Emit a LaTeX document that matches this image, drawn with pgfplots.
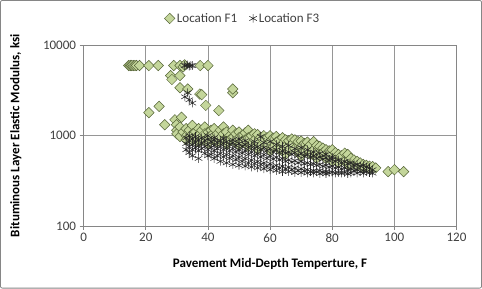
\documentclass[border=0pt]{standalone}
\usepackage{pgfplots}
\pgfplotsset{compat=1.18}
\usepackage{fontspec}
\setmainfont{Carlito}
\definecolor{gridc}{RGB}{150,150,150}
\definecolor{mgridc}{RGB}{200,200,200}
\definecolor{axc}{RGB}{134,134,134}
\definecolor{fone}{RGB}{196,214,155}
\definecolor{fonee}{RGB}{85,100,55}
\definecolor{txt}{RGB}{64,64,64}
\begin{document}
\begin{tikzpicture}
\begin{axis}[
  scale only axis, width=372pt, height=180pt,
  xmin=0, xmax=120, ymode=log, ymin=100, ymax=10000,
  xtick={0,20,40,60,80,100,120},
  ytick={100,1000,10000}, yticklabels={100,1000,10000},
  log basis y=10,
  grid=both, major grid style={gridc, line width=0.6pt},
  minor grid style={mgridc, line width=0.6pt},
  minor x tick num=0,
  yminorgrids=true, xminorgrids=false,
  axis line style={axc, line width=0.6pt},
  tick style={axc, line width=0.6pt},
  major tick length=4pt, minor tick length=0pt,
  tick align=outside, xtick pos=bottom, ytick pos=left,
  every tick label/.append style={font=\fontsize{13}{15}\selectfont, text=txt},
  /pgf/number format/assume math mode=true,
  xlabel={Pavement Mid-Depth Temperture, F},
  ylabel={Bituminous Layer Elastic Modulus, ksi},
  xlabel style={font=\fontsize{13}{15}\selectfont\bfseries, at={(axis description cs:0.5,-0.211)}, anchor=center},
  ylabel style={font=\fontsize{13}{15}\selectfont\bfseries, at={(axis description cs:-0.182,0.5)}, anchor=center, rotate=0},
  legend style={draw=none, fill=none, font=\fontsize{13}{15}\selectfont, text=txt,
     at={(axis description cs:0.427,1.15)}, anchor=center, legend columns=2,
     /tikz/every even column/.append style={column sep=10pt}},
  legend cell align=left,
  clip=false,
]
\addplot[only marks, mark=square*, mark size=3.7pt, mark options={rotate=45, fill=fone, draw=fonee, line width=0.5pt}] coordinates {
(14.5,6000)(15,6000)(15.5,6000)(16,6000)(16.5,6000)(17,6000)(18,6000)(21,6000)(24,6000)(29,6000)(31,6000)(32,5800)(32.5,6100)(37.5,6000)(40,6000)
(28,4640)(28.4,4200)(31,4640)(31,3400)(33.5,3300)(37.4,2900)(48,3000)(48,3300)(38,2850)(39.3,2170)(43.5,1900)
(21,1800)(24.3,2120)(26.1,1325)(29.4,1500)(29.9,1325)(31.5,1600)
(30,1150)(30,1050)(31,1250)(31,980)(32,1100)(33,1200)(33,1000)(33,900)(34,1150)(34,950)
(35,1300)(35,1050)(35,880)(36,1100)(36,950)(37,1200)(37,1000)(37,850)(38,1150)(38,900)
(39,1250)(39,1050)(40,1100)(40,950)(40,820)(41,1150)(41,1000)(42,1200)(42,900)(43,1050)(43,850)
(44,1150)(44,950)(45,1250)(45,1050)(45,880)(46,1100)(46,800)(47,1000)(47,900)(48,1150)(48,950)
(49,1050)(49,850)(50,1100)(50,950)(50,780)(51,1000)(51,870)(52,1080)(52,900)(53,1150)(53,950)(53,760)
(54,1000)(54,820)(55,1050)(55,900)(56,1030)(56,850)(56,700)(57,960)(57,780)(58,1000)(58,880)
(59,950)(59,800)(60,1000)(60,870)(60,680)(61,940)(61,760)(62,980)(62,850)(63,900)(63,700)
(64,950)(64,820)(65,900)(65,760)(65,620)(66,880)(66,700)(67,920)(67,800)(68,900)(68,720)
(69,860)(69,650)(70,870)(70,760)(70,600)(71,820)(71,680)(72,850)(72,720)(73,800)(73,620)
(74,860)(74,700)(75,780)(75,640)(75,560)(76,760)(76,600)(77,730)(77,650)(78,700)(78,560)
(79,680)(79,600)(80,700)(80,520)(81,650)(81,560)(82,620)(82,500)(83,600)(84,640)(84,520)
(85,620)(85,480)(86,560)(86,470)(87,540)(88,520)(88,460)(89,500)(90,480)(90,440)(91,470)
(92,460)(92,430)(93,455)(94,440)(98,400)(100,420)(103,400)
};
\addlegendentry{Location F1}
\addplot[only marks, mark=asterisk, mark size=4.3pt, mark options={draw=black!85, line width=0.55pt}] coordinates {
(32.5,6000)(33,6000)(33.5,6100)(34,5900)(34.5,6000)(35,6000)
(32.6,2700)(35,2300)(33.5,3000)(34,2500)
(33,950)(33,820)(33,700)(34,1000)(34,880)(34,760)(34,650)(35,920)(35,800)(35,700)(35,600)
(36,980)(36,850)(36,740)(37,900)(37,780)(37,680)(37,560)(38,950)(38,830)(38,720)
(39,880)(39,760)(39,640)(40,1000)(40,920)(40,800)(40,700)(40,600)(41,860)(41,740)(41,620)
(42,950)(42,900)(42,780)(42,680)(42,560)(43,840)(43,720)(43,600)(44,880)(44,760)(44,640)(44,520)
(45,940)(45,820)(45,700)(45,580)(46,860)(46,740)(46,620)(46,500)(47,800)(47,680)(47,560)
(48,900)(48,840)(48,720)(48,600)(48,480)(49,780)(49,660)(49,540)(50,920)(50,820)(50,700)(50,580)(50,470)
(51,760)(51,640)(51,520)(52,880)(52,800)(52,680)(52,560)(52,460)(53,740)(53,620)(53,500)
(54,780)(54,660)(54,540)(54,450)(55,860)(55,720)(55,600)(55,490)(56,760)(56,640)(56,520)(56,440)
(57,980)(57,700)(57,580)(57,480)(58,840)(58,740)(58,620)(58,500)(58,430)(59,680)(59,560)(59,460)
(60,860)(60,720)(60,600)(60,490)(60,420)(61,660)(61,550)(61,450)(62,800)(62,700)(62,580)(62,470)(62,410)
(63,650)(63,540)(63,440)(64,760)(64,680)(64,560)(64,460)(64,400)(65,640)(65,520)(65,430)
(66,780)(66,660)(66,540)(66,450)(66,400)(67,620)(67,510)(67,420)(68,720)(68,650)(68,530)(68,440)(68,390)
(69,600)(69,500)(69,410)(70,740)(70,640)(70,520)(70,430)(70,390)(71,590)(71,490)(71,410)
(72,700)(72,620)(72,500)(72,420)(72,385)(73,580)(73,480)(73,400)(74,660)(74,600)(74,490)(74,410)(74,385)
(75,560)(75,470)(75,400)(76,640)(76,580)(76,480)(76,410)(76,380)(77,550)(77,460)(77,395)
(78,620)(78,570)(78,470)(78,400)(78,380)(79,530)(79,450)(79,390)(80,580)(80,550)(80,460)(80,395)
(81,520)(81,440)(81,385)(82,540)(82,450)(82,390)(83,500)(83,430)(83,385)(84,520)(84,440)(84,390)
(85,490)(85,420)(85,380)(86,500)(86,430)(86,385)(87,470)(87,410)(88,480)(88,420)(88,385)
(89,460)(89,400)(90,470)(90,410)(90,385)(91,450)(91,400)(92,440)(92,390)(93,420)(93,385)
};
\addlegendentry{Location F3}
\end{axis}
\draw[axc, line width=0.8pt, rounded corners=2pt] (-83pt,-62pt) rectangle (397pt,225pt);
\end{tikzpicture}
\end{document}
